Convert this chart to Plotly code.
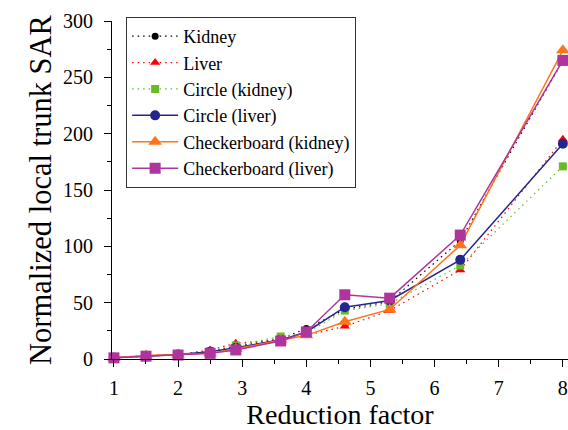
import plotly.graph_objects as go

x = [1, 1.5, 2, 2.5, 2.9, 3.6, 4, 4.6, 5.3, 6.4, 8]
kidney = [1, 2.5, 4, 7, 11, 18, 27, 44, 51, 105, 265]
liver = [1, 3, 4, 8, 14, 17, 21, 29, 43, 79, 195]
circle_kidney = [1, 2.5, 4, 7, 12, 20, 23, 43, 49, 83, 171]
circle_liver = [1, 2.5, 4, 6.5, 10, 17, 24, 46, 52, 88, 191]
checker_kidney = [1, 3, 4, 5, 9, 17, 21, 33, 44, 101, 274]
checker_liver = [1, 2.5, 3.5, 5, 8, 16, 24, 57, 54, 110, 265]

names = ["Kidney", "Liver", "Circle (kidney)", "Circle (liver)",
         "Checkerboard (kidney)", "Checkerboard (liver)"]
series = [kidney, liver, circle_kidney, circle_liver, checker_kidney, checker_liver]
colors = ["#000000", "#ff0000", "#66bb2a", "#25258f", "#ff7418", "#b0349e"]
symbols = ["circle", "triangle-up", "square", "circle", "triangle-up", "square"]
sizes = [7, 9, 8, 10, 12, 11]
dashes = ["1.5px,4px", "1.5px,4px", "1.5px,4px", "solid", "solid", "solid"]
widths = [1.2, 1.2, 1.2, 1.5, 1.5, 1.5]

fig = go.Figure()
for i in range(6):
    fig.add_trace(go.Scatter(
        x=x, y=series[i], name=names[i], mode="lines+markers",
        line=dict(color=colors[i], dash=dashes[i], width=widths[i]),
        marker=dict(symbol=symbols[i], size=sizes[i], color=colors[i], line=dict(width=0)),
        cliponaxis=False,
    ))

font = "Liberation Serif"
fig.update_layout(
    width=568, height=430,
    margin=dict(l=112, r=0, t=21, b=71),
    paper_bgcolor="white", plot_bgcolor="white",
    font=dict(family=font, color="black"),
    showlegend=True,
    legend=dict(
        x=0.031, y=1.012, xanchor="left", yanchor="top",
        bgcolor="white", bordercolor="#333333", borderwidth=1,
        font=dict(family=font, size=18, color="black"),
        tracegroupgap=0, itemwidth=46,
    ),
    xaxis=dict(
        range=[0.97, 8.08], tickmode="array", tickvals=[1, 2, 3, 4, 5, 6, 7, 8],
        showline=True, linecolor="black", linewidth=1, showgrid=False, zeroline=False,
        ticks="outside", ticklen=7, tickwidth=1, tickcolor="black",
        minor=dict(ticks="outside", ticklen=4, tickwidth=1, tickcolor="black", dtick=0.5, showgrid=False),
        tickfont=dict(family=font, size=20, color="black"),
        ticklabelstandoff=4,
        title=dict(text="Reduction factor", font=dict(family=font, size=28, color="black"), standoff=8),
        automargin=False,
    ),
    yaxis=dict(
        range=[0, 300], tickmode="array", tickvals=[0, 50, 100, 150, 200, 250, 300],
        showline=True, linecolor="black", linewidth=1, showgrid=False, zeroline=False,
        ticks="outside", ticklen=7, tickwidth=1, tickcolor="black",
        minor=dict(ticks="outside", ticklen=4, tickwidth=1, tickcolor="black", dtick=25, showgrid=False),
        tickfont=dict(family=font, size=20, color="black"),
        ticklabelstandoff=7,
        title=dict(text="Normalized local trunk SAR", font=dict(family=font, size=30.5, color="black"), standoff=2),
        automargin=False,
    ),
)

fig.write_html("out.html")
